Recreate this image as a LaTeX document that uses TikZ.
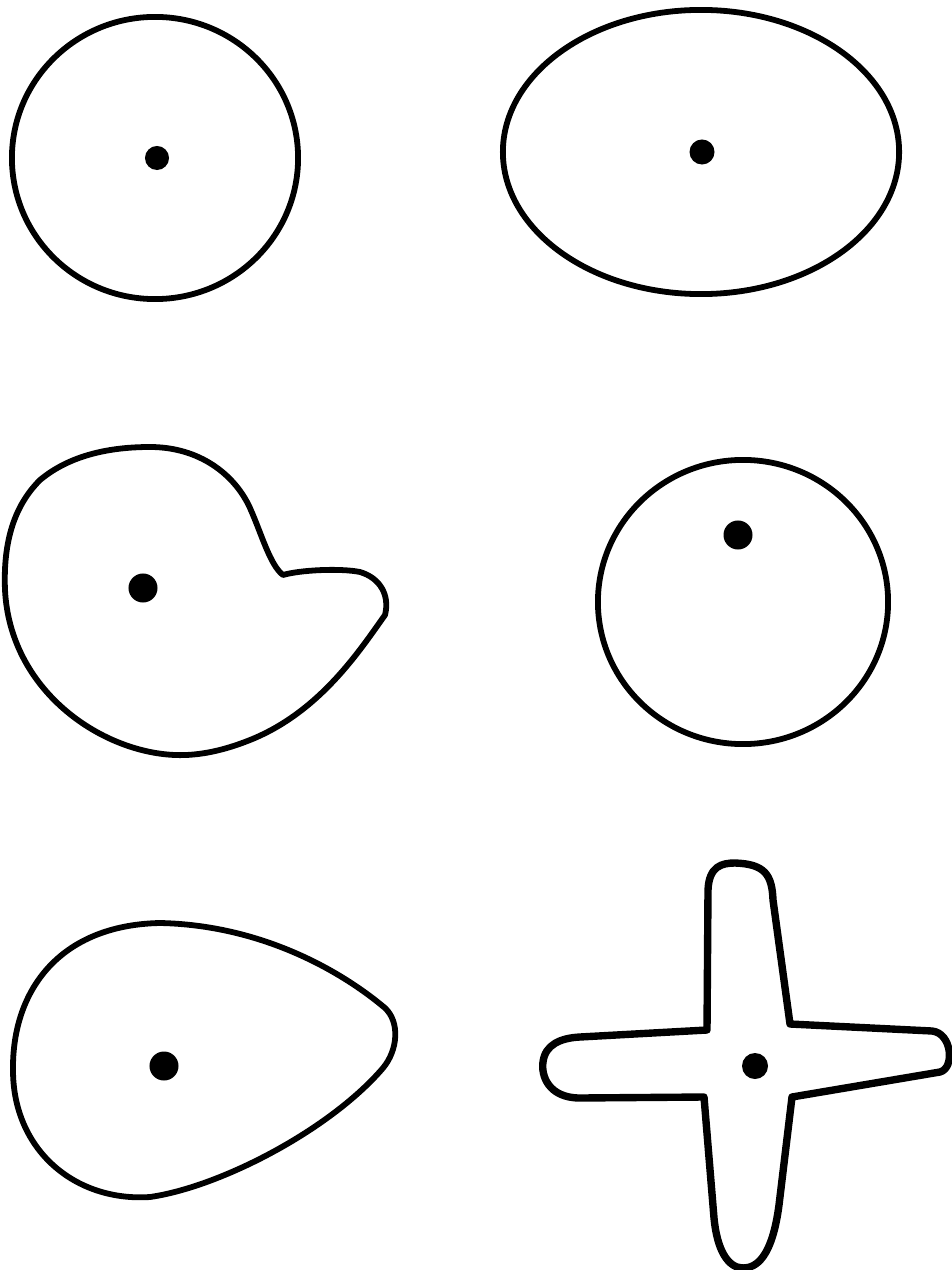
\documentclass[tikz,border=0pt]{standalone}
\begin{document}
\begin{tikzpicture}[x=0.01cm, y=-0.01cm]
  \tikzset{outline/.style={line width=1.65pt, line join=round}}
  \useasboundingbox (0,0) rectangle (951,1270);
  \draw[outline] (155,158) ellipse [x radius=1.43cm, y radius=1.41cm];
  \fill (157,158) circle [radius=1.2mm];
  \draw[outline] (701,152) ellipse [x radius=1.98cm, y radius=1.42cm];
  \fill (702,152) circle [radius=1.25mm];
  \draw[outline] (5,590)
    .. controls (3,540) and (15,505) .. (40,480)
    .. controls (70,455) and (110,447) .. (150,447)
    .. controls (200,447) and (235,475) .. (250,508)
    .. controls (262,535) and (270,565) .. (283,575)
    .. controls (300,570) and (340,568) .. (360,572)
    .. controls (380,578) and (390,595) .. (385,615)
    .. controls (360,650) and (320,712) .. (250,740)
    .. controls (225,750) and (200,756) .. (175,755)
    .. controls (100,752) and (10,690) .. (5,590) -- cycle;
  \fill (143,588) circle [radius=1.45mm];
  \draw[outline] (743,602) ellipse [x radius=1.45cm, y radius=1.42cm];
  \fill (738,535) circle [radius=1.45mm];
  \draw[outline] (160,923)
    .. controls (260,925) and (340,970) .. (385,1008)
    .. controls (400,1022) and (398,1050) .. (383,1068)
    .. controls (330,1130) and (220,1187) .. (150,1197)
    .. controls (75,1202) and (13,1150) .. (13,1070)
    .. controls (12,990) and (60,925) .. (160,923) -- cycle;
  \fill (164,1066) circle [radius=1.45mm];
  \draw[line width=2.1pt, line join=round] (707,1030) -- (708,890)
    .. controls (709,866) and (722,863) .. (735,863)
    .. controls (765,864) and (772,875) .. (773,900)
    -- (790,1024) -- (932,1031)
    .. controls (952,1033) and (955,1068) .. (940,1072)
    -- (792,1097) -- (779,1205)
    .. controls (772,1258) and (756,1268) .. (743,1268)
    .. controls (728,1268) and (717,1250) .. (714,1218)
    -- (704,1097) -- (580,1098)
    .. controls (548,1098) and (541,1075) .. (543,1062)
    .. controls (545,1045) and (560,1038) .. (580,1037) -- cycle;
  \fill (755,1066) circle [radius=1.3mm];
\end{tikzpicture}
\end{document}
